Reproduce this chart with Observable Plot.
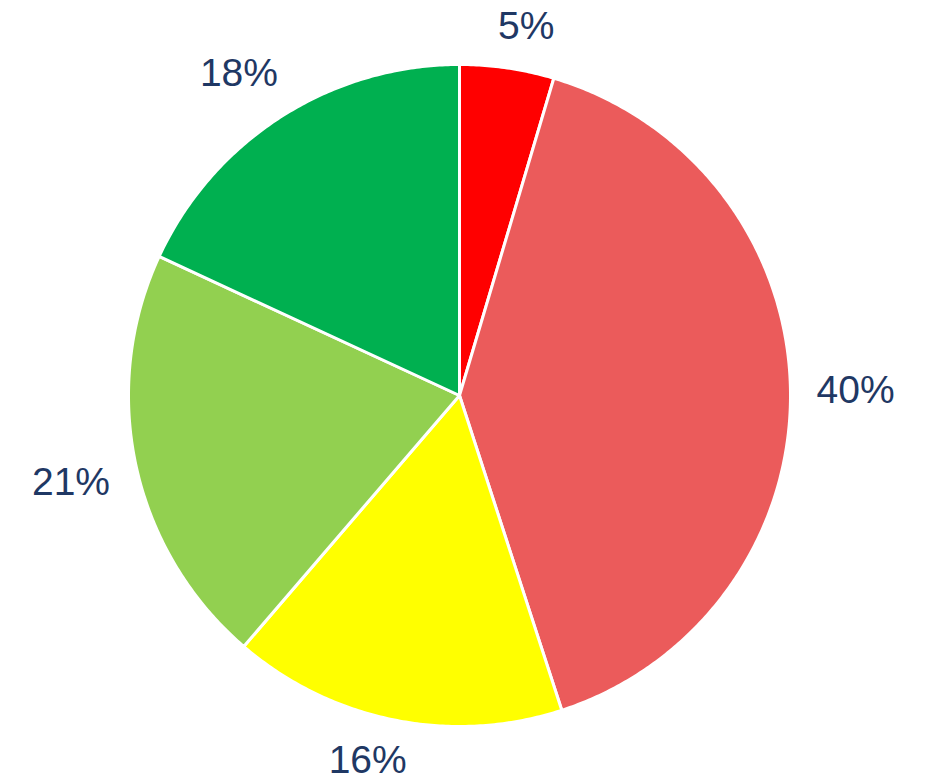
<!DOCTYPE html>
<html>
<head>
<meta charset="utf-8">
<script src="https://cdn.jsdelivr.net/npm/d3@7"></script>
<script src="https://cdn.jsdelivr.net/npm/@observablehq/plot@0.6"></script>
<style>
  html, body { margin: 0; padding: 0; background: #ffffff; }
  svg { display: block; }
</style>
</head>
<body>
<div id="chart"></div>
<script>
// Data (percent shares, clockwise from 12 o'clock)
const labels = ["5%", "40%", "16%", "21%", "18%"];
const shares = [4.6, 40.4, 16.3, 20.6, 18.1];
const colors = ["#FF0000", "#EB5B5B", "#FFFF00", "#92D050", "#00B050"];

// Layout constants (pixels)
const W = 931, H = 784;
const cx = 459, cy = 395, R = 331;
const fontSize = 39;
const gap = 26;

// Build slice polygons in unit-circle data space (radius 1), y up
const total = d3.sum(shares);
let acc = 0;
const slices = shares.map((v, i) => {
  const a0 = acc / total * 2 * Math.PI;
  acc += v;
  const a1 = acc / total * 2 * Math.PI;
  const n = Math.max(2, Math.ceil((a1 - a0) / (Math.PI / 360)));
  const pts = [{x: 0, y: 0}];
  for (let k = 0; k <= n; k++) {
    const a = a0 + (a1 - a0) * k / n;
    pts.push({x: Math.sin(a), y: Math.cos(a)});
  }
  pts.push({x: 0, y: 0});
  return {label: labels[i], color: colors[i], a0, a1, pts};
});

// Label positions: text box placed just outside the rim around the mid-angle
function textWidth(s) {
  let w = 0;
  for (const ch of s) w += ch === "%" ? 0.889 : 0.556;
  return w * fontSize;
}
const sgn = v => Math.abs(v) < 0.1 ? 0 : Math.sign(v);
const labelData = slices.map(s => {
  const m = (s.a0 + s.a1) / 2;
  const sx = Math.sin(m), sy = Math.cos(m);
  const w = textWidth(s.label), h = 0.72 * fontSize;
  // (a) box centre on the ray, box edge touching the offset circle
  const ext = (w / 2) * Math.abs(sx) + (h / 2) * Math.abs(sy);
  const ax = sx * (R + gap + ext), ay = sy * (R + gap + ext);
  // (b) nearest box corner on the ray at the offset circle
  const bx = sx * (R + gap) + sgn(sx) * w / 2, by = sy * (R + gap) + sgn(sy) * h / 2;
  let px = (ax + bx) / 2, py = (ay + by) / 2;
  // keep the text inside the picture
  py = Math.max(py, -(H - cy) + fontSize * 0.62);
  return {label: s.label, x: px / R, y: py / R};
});

const chart = Plot.plot({
  width: W,
  height: H,
  marginTop: 0, marginRight: 0, marginBottom: 0, marginLeft: 0,
  x: {domain: [-cx / R, (W - cx) / R], axis: null},
  y: {domain: [-(H - cy) / R, cy / R], axis: null},
  style: {background: "#ffffff", fontFamily: "'Liberation Sans', Arial, sans-serif"},
  marks: [
    ...slices.map(s => Plot.line(s.pts, {
      x: "x", y: "y",
      fill: s.color,
      stroke: "#ffffff",
      strokeWidth: 3,
      strokeLinejoin: "round"
    })),
    Plot.text(labelData, {
      x: "x", y: "y", text: "label",
      fill: "#1F3864",
      fontSize: fontSize,
      textAnchor: "middle",
      lineAnchor: "middle"
    })
  ]
});
document.getElementById("chart").appendChild(chart);
</script>
</body>
</html>
